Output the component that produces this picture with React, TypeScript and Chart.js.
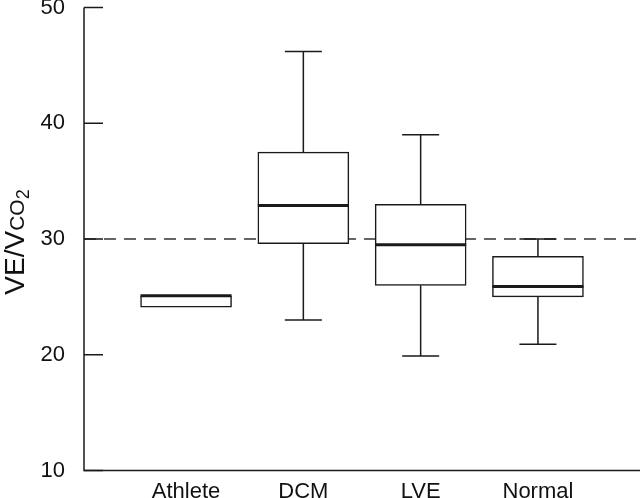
import React, { useEffect, useRef } from "react";
import { Chart, registerables } from "chart.js";

Chart.register(...registerables);

const categories = ["Athlete", "DCM", "LVE", "Normal"];
const whiskerLow = [24.1, 23.0, 19.9, 20.9];
const q1 = [24.1, 29.6, 26.0, 25.0];
const median = [25.1, 32.9, 29.5, 25.9];
const q3 = [25.1, 37.5, 33.0, 28.5];
const whiskerHigh = [25.1, 46.2, 39.0, 30.0];
const referenceLine = 30;
const yTicks = [10, 20, 30, 40, 50];

const FONT = "'Liberation Sans', Arial, Helvetica, sans-serif";
const INK = "#1a1a1a";

const boxPlugin = {
  id: "boxExtras",
  beforeDatasetsDraw(chart: any) {
    const { ctx, chartArea, scales } = chart;
    const y = scales.y;
    const yp = y.getPixelForValue(referenceLine);
    ctx.save();
    ctx.strokeStyle = "#333";
    ctx.lineWidth = 1.4;
    ctx.setLineDash([12, 8]);
    ctx.beginPath();
    ctx.moveTo(chartArea.left, yp);
    ctx.lineTo(chartArea.right, yp);
    ctx.stroke();
    ctx.restore();
  },
  afterDatasetsDraw(chart: any) {
    const { ctx, chartArea, scales } = chart;
    const x = scales.x;
    const y = scales.y;
    ctx.save();
    ctx.strokeStyle = INK;
    ctx.lineCap = "butt";
    const half = 45.5;
    const cap = 18.5;
    categories.forEach((_, i) => {
      const cx = x.getPixelForValue(i + 1);
      ctx.lineWidth = 1.5;
      ctx.beginPath();
      if (whiskerHigh[i] > q3[i]) {
        ctx.moveTo(cx, y.getPixelForValue(q3[i]));
        ctx.lineTo(cx, y.getPixelForValue(whiskerHigh[i]));
        ctx.moveTo(cx - cap, y.getPixelForValue(whiskerHigh[i]));
        ctx.lineTo(cx + cap, y.getPixelForValue(whiskerHigh[i]));
      }
      if (whiskerLow[i] < q1[i]) {
        ctx.moveTo(cx, y.getPixelForValue(q1[i]));
        ctx.lineTo(cx, y.getPixelForValue(whiskerLow[i]));
        ctx.moveTo(cx - cap, y.getPixelForValue(whiskerLow[i]));
        ctx.lineTo(cx + cap, y.getPixelForValue(whiskerLow[i]));
      }
      ctx.stroke();
      ctx.lineWidth = 3;
      ctx.beginPath();
      const my = y.getPixelForValue(median[i]);
      ctx.moveTo(cx - half, my);
      ctx.lineTo(cx + half, my);
      ctx.stroke();
    });
    ctx.lineWidth = 1.5;
    ctx.beginPath();
    yTicks.forEach((t) => {
      const py = y.getPixelForValue(t);
      ctx.moveTo(chartArea.left, py);
      ctx.lineTo(chartArea.left + 19, py);
    });
    ctx.stroke();
    ctx.beginPath();
    ctx.moveTo(chartArea.left, chartArea.top);
    ctx.lineTo(chartArea.left, chartArea.bottom);
    ctx.lineTo(chartArea.right, chartArea.bottom);
    ctx.stroke();
    ctx.restore();
  },
  afterDraw(chart: any) {
    const { ctx, scales } = chart;
    const y = scales.y;
    const cy = 242;
    ctx.save();
    ctx.translate(24, cy);
    ctx.rotate(-Math.PI / 2);
    ctx.fillStyle = "#111";
    ctx.textBaseline = "alphabetic";
    ctx.textAlign = "left";
    const big = "28px " + FONT;
    const mid = "21px " + FONT;
    const small = "18px " + FONT;
    ctx.font = big;
    const w1 = ctx.measureText("VE/V").width;
    ctx.font = mid;
    const w2 = ctx.measureText("CO").width;
    ctx.font = small;
    const w3 = ctx.measureText("2").width;
    const total = w1 + w2 + w3;
    let xx = -total / 2;
    ctx.font = big;
    ctx.fillText("VE/V", xx, 0);
    xx += w1;
    ctx.font = mid;
    ctx.fillText("CO", xx, 0);
    xx += w2;
    ctx.font = small;
    ctx.fillText("2", xx, 5);
    ctx.restore();
    void y;
  },
};

export default function App() {
  const ref = useRef<HTMLCanvasElement>(null);
  useEffect(() => {
    document.body.style.margin = "0";
    const canvas = ref.current;
    if (!canvas) return;
    const chart = new Chart(canvas, {
      type: "bar",
      data: {
        datasets: [
          {
            data: categories.map((_, i) => ({ x: i + 1, y: [q1[i], q3[i]] })) as any,
            backgroundColor: "#ffffff",
            borderColor: INK,
            borderWidth: 1.5,
            borderSkipped: false,
            barThickness: 91,
          } as any,
        ],
      },
      options: {
        responsive: false,
        animation: false,
        events: [],
        layout: { padding: { top: 7.5, right: 0, left: 0, bottom: 0 } },
        plugins: {
          legend: { display: false },
          tooltip: { enabled: false },
        },
        scales: {
          x: {
            type: "linear",
            offset: false,
            min: 0.13,
            max: 4.87,
            grid: { display: false, offset: false },
            border: { display: false },
            afterBuildTicks: (s: any) => {
              s.ticks = categories.map((_, i) => ({ value: i + 1 }));
            },
            afterFit: (s: any) => {
              s.height = 27.5;
              s.paddingLeft = 0;
              s.paddingRight = 0;
            },
            ticks: {
              autoSkip: false,
              maxRotation: 0,
              padding: 0,
              color: "#111",
              font: { family: FONT, size: 22 },
              callback: (v: any) => categories[Number(v) - 1] ?? "",
            },
          },
          y: {
            type: "linear",
            min: 10,
            max: 50,
            grid: { display: false },
            border: { display: false },
            afterBuildTicks: (s: any) => {
              s.ticks = yTicks.map((v) => ({ value: v }));
            },
            afterFit: (s: any) => {
              s.width = 84;
              s.paddingTop = 0;
              s.paddingBottom = 0;
            },
            ticks: {
              padding: 11,
              color: "#111",
              font: { family: FONT, size: 22 },
            },
          },
        },
      } as any,
      plugins: [boxPlugin],
    });
    return () => chart.destroy();
  }, []);
  return (
    <div style={{ width: 640, height: 498 }}>
      <canvas ref={ref} width={640} height={498} style={{ display: "block" }} />
    </div>
  );
}
